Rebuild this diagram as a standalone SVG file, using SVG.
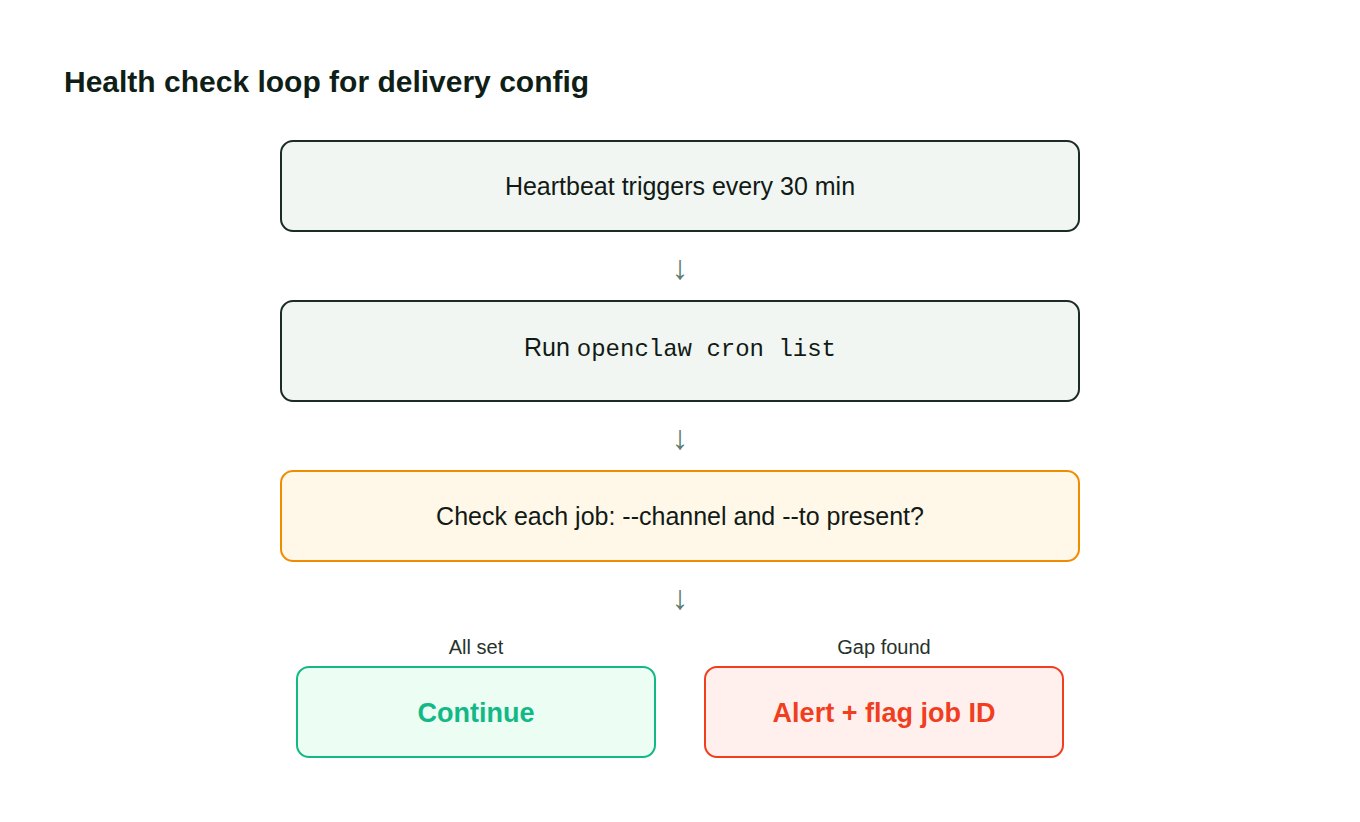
<svg xmlns="http://www.w3.org/2000/svg" width="1360" height="822" viewBox="0 0 1360 822">
<style>
text{font-family:"Liberation Sans",Arial,sans-serif;text-anchor:middle}
.n rect{fill:#f1f6f2;stroke:#1c2b24;stroke-width:2}
.t{font-size:25px;fill:#111a16}
.arr{font-size:34px;fill:#5a7d70}
.lbl{font-size:20px;fill:#26332d}
</style>
<rect width="1360" height="822" fill="#fff"/>
<text x="64" y="92" style="text-anchor:start;font-size:30px;font-weight:bold;fill:#0f1f18">Health check loop for delivery config</text>
<g id="heartbeat" class="n"><rect x="281" y="141" width="798" height="90" rx="12"/><text class="t" x="680" y="195">Heartbeat triggers every 30 min</text></g>
<g id="run" class="n"><rect x="281" y="301" width="798" height="100" rx="12"/><text class="t" x="680" y="356">Run <tspan style="font-family:'Liberation Mono',monospace;font-size:24px">openclaw cron list</tspan></text></g>
<g id="check"><rect x="281" y="471" width="798" height="90" rx="12" fill="#fff7e8" stroke="#f08c00" stroke-width="2"/><text class="t" x="680" y="525">Check each job: --channel and --to present?</text></g>
<g id="continue"><rect x="297" y="667" width="358" height="90" rx="12" fill="#ecfdf3" stroke="#12b886" stroke-width="2"/><text x="476" y="722" style="font-size:27px;font-weight:bold;fill:#12b886">Continue</text></g>
<g id="alert"><rect x="705" y="667" width="358" height="90" rx="12" fill="#fff0ee" stroke="#f03e1e" stroke-width="2"/><text x="884" y="722" style="font-size:27px;font-weight:bold;fill:#f03e1e">Alert + flag job ID</text></g>
<g id="connectors">
<text class="arr" x="680" y="279">↓</text>
<text class="arr" x="680" y="449">↓</text>
<text class="arr" x="680" y="609">↓</text>
<text class="lbl" x="476" y="654">All set</text>
<text class="lbl" x="884" y="654">Gap found</text>
</g>
</svg>
